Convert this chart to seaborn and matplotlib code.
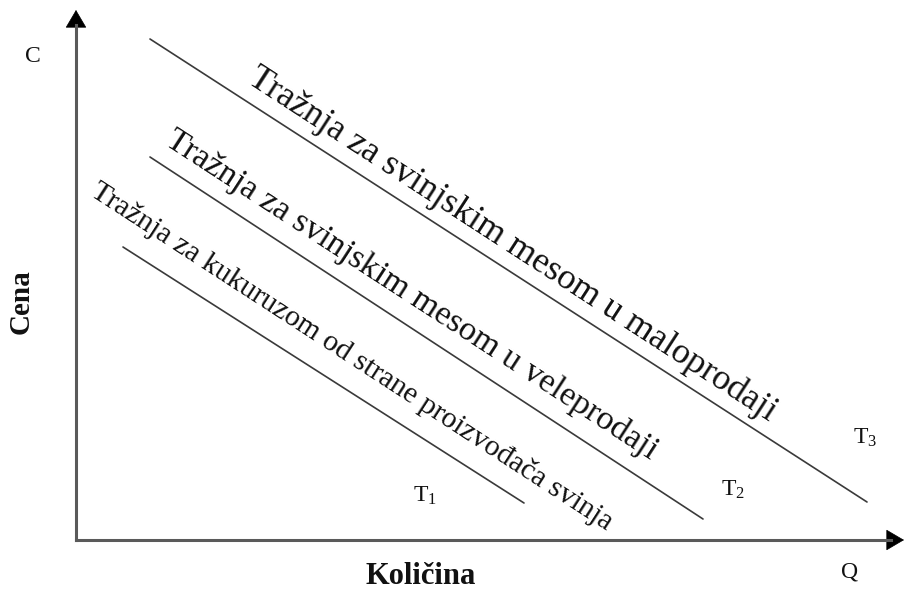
import matplotlib
matplotlib.use("Agg")
import matplotlib.pyplot as plt
import seaborn as sns
import pandas as pd

# ---- data (quantity / price coordinates) ----
curve_names = ["T1", "T2", "T3"]
q_start = [4.7, 7.4, 7.4]
q_end = [44.8, 62.7, 79.1]
p_start = [29.3, 38.3, 50.1]
p_end = [3.7, 2.1, 3.8]

curve_texts = [
    "Tražnja za kukuruzom od strane proizvođača svinja",
    "Tražnja za svinjskim mesom u veleprodaji",
    "Tražnja za svinjskim mesom u maloprodaji",
]
curve_labels = ["T$_1$", "T$_2$", "T$_3$"]
label_q = [34.9, 65.7, 78.9]
label_p = [4.4, 5.0, 10.2]
text_q = [27.6, 33.6, 43.6]
text_p = [18.3, 24.5, 29.5]
text_sizes = [21.5, 24.7, 26]

axis_label_x = "Količina"
axis_label_y = "Cena"
axis_sym_x = "Q"
axis_sym_y = "C"

rows = []
for n, qs, qe, ps, pe in zip(curve_names, q_start, q_end, p_start, p_end):
    rows.append({"curve": n, "Q": qs, "P": ps})
    rows.append({"curve": n, "Q": qe, "P": pe})
df = pd.DataFrame(rows)

sns.set_theme(style="white")
plt.rcParams["font.family"] = ["Liberation Serif", "DejaVu Serif"]
plt.rcParams["mathtext.default"] = "regular"

fig = plt.figure(figsize=(9.05, 5.89), dpi=100)
ax = fig.add_axes([0, 0, 1, 1])
ax.set_xlim(-7.6, 82.9)
ax.set_ylim(-4.9, 54.0)
ax.axis("off")

sns.lineplot(data=df, x="Q", y="P", units="curve", estimator=None,
             color="#3a3a3a", linewidth=1.2, ax=ax, legend=False)

# axes with arrowheads (black heads, grey shafts)
arrow = dict(arrowstyle="-|>,head_length=0.85,head_width=0.5", color="#000000",
             lw=0.5, shrinkA=0, shrinkB=0, mutation_scale=14)
ax.annotate("", xy=(0, 53.0), xytext=(0, 50.0), arrowprops=arrow, zorder=4)
ax.annotate("", xy=(82.8, 0), xytext=(80.0, 0), arrowprops=arrow, zorder=4)
ax.plot([0, 0], [0, 51.5], color="#5a5a5a", lw=2.2, solid_capstyle="projecting", zorder=5)
ax.plot([0, 81.5], [0, 0], color="#5a5a5a", lw=2.2, solid_capstyle="projecting", zorder=5)

for t, q, p, s in zip(curve_texts, text_q, text_p, text_sizes):
    ax.text(q, p, t, rotation=-33, rotation_mode="anchor", ha="center",
            va="center", fontsize=s, color="#111111")

for t, q, p in zip(curve_labels, label_q, label_p):
    ax.text(q, p, t, ha="center", va="center", fontsize=17, color="#111111")

ax.text(-4.3, 48.3, axis_sym_y, ha="center", va="center", fontsize=17, color="#111111")
ax.text(77.4, -3.2, axis_sym_x, ha="center", va="center", fontsize=17, color="#111111")
ax.text(34.5, -3.6, axis_label_x, ha="center", va="center", fontsize=22,
        fontweight="bold", color="#111111")
ax.text(-5.5, 23.8, axis_label_y, ha="center", va="center", fontsize=21,
        fontweight="bold", rotation=90, color="#111111")

fig.savefig("out.png", dpi=100)
